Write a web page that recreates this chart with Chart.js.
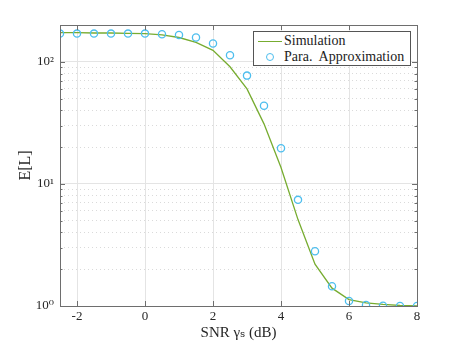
<!DOCTYPE html>
<html>
<head>
<meta charset="utf-8">
<script src="https://cdn.jsdelivr.net/npm/chart.js@4"></script>
<style>
  body { margin: 0; background: #fff; }
  #wrap { position: relative; width: 460px; height: 345px; }
  #legend {
    position: absolute; left: 253px; top: 31px; width: 156px; height: 33px;
    border: 1px solid #555; background: #fff;
    font-family: "Liberation Serif", "DejaVu Serif", serif; font-size: 14px; color: #222;
  }
  .row { position: absolute; left: 0; height: 16px; line-height: 16px; white-space: pre; }
  .row span { position: absolute; left: 30px; top: 0; }
  .swatch-line { position: absolute; left: 4px; top: 8px; width: 24px; height: 0; border-top: 1.5px solid #77AC30; }
  .swatch-dot { position: absolute; left: 12px; top: 4px; width: 6px; height: 6px; border: 1.4px solid #4DBEEE; border-radius: 50%; }
</style>
</head>
<body>
<div id="wrap">
  <canvas id="c" width="460" height="345"></canvas>
  <div id="legend">
    <div class="row" style="top:1px"><div class="swatch-line"></div><span>Simulation</span></div>
    <div class="row" style="top:17px"><div class="swatch-dot"></div><span>Para.  Approximation</span></div>
  </div>
</div>
<script>
// SNR in dB
const snrDb = [-2.5, -2, -1.5, -1, -0.5, 0, 0.5, 1, 1.5, 2, 2.5, 3, 3.5, 4, 4.5, 5, 5.5, 6, 6.5, 7, 7.5, 8];
// E[L] values
const simulation = [173, 173, 172, 172, 171, 170, 166, 158, 144, 124, 91, 60, 31, 13.6, 5.1, 2.2, 1.4, 1.13, 1.06, 1.03, 1.01, 1.0];
const paraApprox = [170, 170, 170, 170, 170, 170, 168, 166, 158, 141, 113, 77, 43.6, 19.6, 7.4, 2.81, 1.45, 1.1, 1.02, 1.005, 1.0, 1.0];

const xTicks = [-2, 0, 2, 4, 6, 8];
const yTicks = [1, 2, 3, 4, 5, 6, 7, 8, 9, 10, 20, 30, 40, 50, 60, 70, 80, 90, 100, 200];
const yLabels = { 1: '10⁰', 10: '10¹', 100: '10²' };

const serif = '"Liberation Serif", "DejaVu Serif", serif';
const isDecade = v => Math.abs(Math.log10(v) - Math.round(Math.log10(v))) < 1e-9;

// inward ticks and box, MATLAB style
const boxPlugin = {
  id: 'box',
  afterDatasetsDraw(chart) {
    const { ctx, chartArea: a, scales: { x, y } } = chart;
    ctx.save();
    ctx.strokeStyle = '#6e6e6e';
    ctx.lineWidth = 1;
    ctx.beginPath();
    xTicks.forEach(v => {
      const px = Math.round(x.getPixelForValue(v)) + 0.5;
      ctx.moveTo(px, a.bottom); ctx.lineTo(px, a.bottom - 5);
      ctx.moveTo(px, a.top); ctx.lineTo(px, a.top + 5);
    });
    yTicks.forEach(v => {
      const py = Math.round(y.getPixelForValue(v)) + 0.5;
      const len = isDecade(v) ? 5 : 2.5;
      ctx.moveTo(a.left, py); ctx.lineTo(a.left + len, py);
      ctx.moveTo(a.right, py); ctx.lineTo(a.right - len, py);
    });
    ctx.stroke();
    ctx.strokeRect(Math.round(a.left) + 0.5, Math.round(a.top) + 0.5,
      Math.round(a.right - a.left), Math.round(a.bottom - a.top));
    ctx.restore();
  }
};

new Chart(document.getElementById('c'), {
  type: 'line',
  data: {
    datasets: [
      {
        label: 'Para. Approximation',
        data: snrDb.map((v, i) => ({ x: v, y: paraApprox[i] })),
        showLine: false,
        pointStyle: 'circle',
        pointRadius: 3.6,
        pointBorderWidth: 1.3,
        pointBorderColor: '#4DBEEE',
        pointBackgroundColor: 'rgba(0,0,0,0)',
        order: 0
      },
      {
        label: 'Simulation',
        data: snrDb.map((v, i) => ({ x: v, y: simulation[i] })),
        borderColor: '#77AC30',
        borderWidth: 1.3,
        pointRadius: 0,
        tension: 0,
        order: 1
      }
    ]
  },
  options: {
    responsive: false,
    animation: false,
    layout: { padding: { left: 0, right: 43, top: 25, bottom: 0 } },
    plugins: { legend: { display: false }, tooltip: { enabled: false } },
    scales: {
      x: {
        type: 'linear',
        min: -2.5,
        max: 8,
        afterBuildTicks: s => { s.ticks = xTicks.map(v => ({ value: v })); },
        afterFit: s => { s.height = 39; },
        ticks: {
          color: '#262626',
          font: { family: serif, size: 13 },
          padding: 3,
          maxRotation: 0
        },
        grid: { color: '#e4e4e4', lineWidth: 1, drawTicks: false },
        border: { display: false },
        title: {
          display: true,
          text: 'SNR γₛ (dB)',
          color: '#262626',
          font: { family: serif, size: 15 },
          padding: { top: 0, bottom: 3 }
        }
      },
      y: {
        type: 'logarithmic',
        min: 1,
        max: 200,
        afterBuildTicks: s => { s.ticks = yTicks.map(v => ({ value: v })); },
        afterFit: s => { s.width = 60; },
        ticks: {
          color: '#262626',
          font: { family: serif, size: 13 },
          padding: 6,
          autoSkip: false,
          callback: v => yLabels[v] || ''
        },
        grid: {
          drawTicks: false,
          lineWidth: 1,
          color: c => (c.tick && isDecade(c.tick.value)) ? '#e4e4e4' : '#dadada'
        },
        border: {
          display: false,
          dash: c => (c.tick && !isDecade(c.tick.value)) ? [1, 3] : []
        },
        title: {
          display: true,
          text: 'E[L]',
          color: '#262626',
          font: { family: serif, size: 16 },
          padding: { top: 16, bottom: 0 }
        }
      }
    }
  },
  plugins: [boxPlugin]
});
</script>
</body>
</html>
